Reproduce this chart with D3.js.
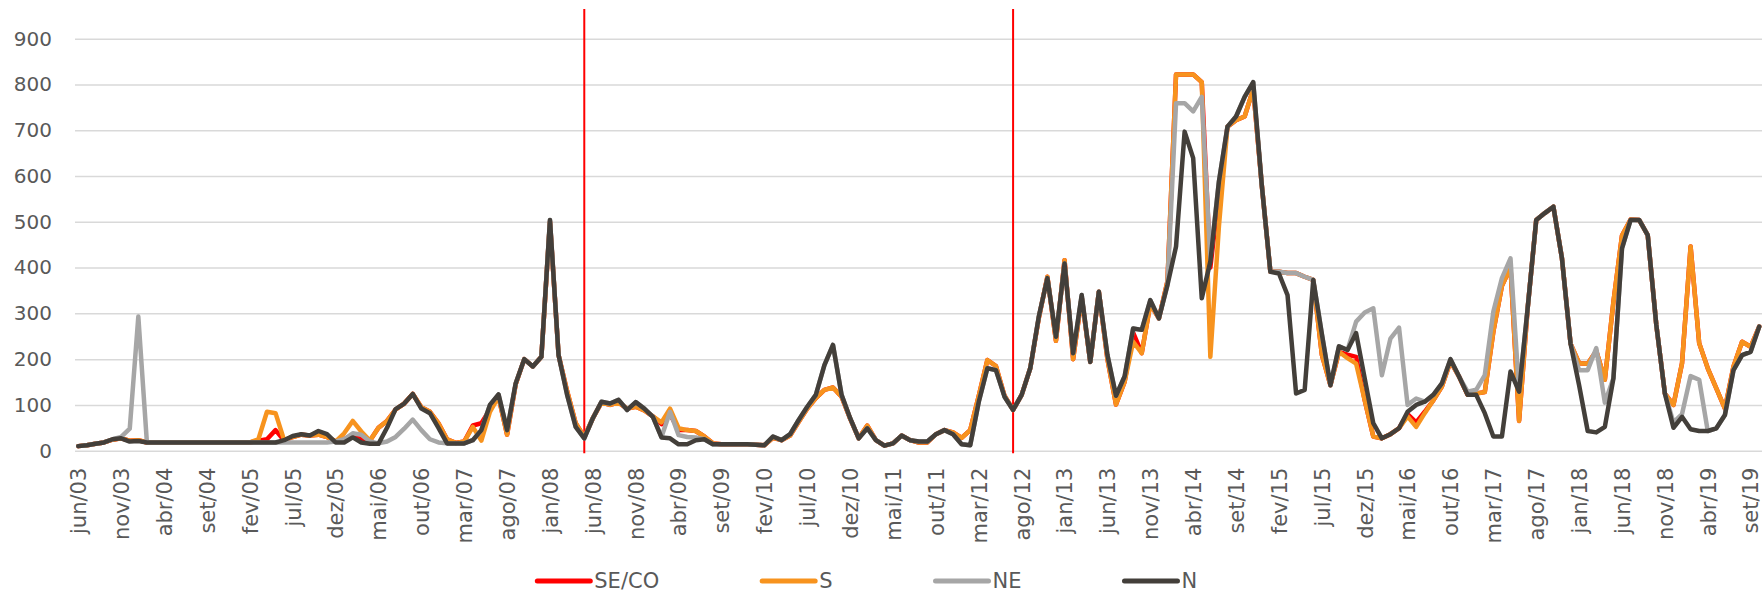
<!DOCTYPE html>
<html>
<head>
<meta charset="utf-8">
<script src="https://cdn.jsdelivr.net/npm/d3@7"></script>
<style>
  html, body { margin: 0; padding: 0; background: #fff; }
  svg { display: block; }
  text { font-family: "DejaVu Sans", Verdana, sans-serif; fill: #595959; }
</style>
</head>
<body>
<svg id="chart"></svg>
<script>
// month names used for the category axis
const monthNames = ['jan', 'fev', 'mar', 'abr', 'mai', 'jun', 'jul', 'ago', 'set', 'out', 'nov', 'dez'];

// categories: jun/03 .. out/19
const months = [];
for (let y = 2003; y <= 2019; y++) {
    for (let m = 0; m < 12; m++) {
        if (y === 2003 && m < 5) continue;
        if (y === 2019 && m > 9) continue;
        months.push(monthNames[m] + '/' + String(y).slice(2));
    }
}

// every 5th month gets a label
const tickLabels = months.filter((d, i) => i % 5 === 0);

const yTicks = [0, 100, 200, 300, 400, 500, 600, 700, 800, 900];

// vertical markers
const markers = ['mai/08', 'jul/12'];

const seriesNames = ['SE/CO', 'S', 'NE', 'N'];
const seriesColors = ['#ff0000', '#f7931e', '#a6a6a6', '#433f3a'];

const seco = [
    10, 12, 15, 18, 24, 27, 22, 23, 18, 18, 18, 18, 18, 18, 18, 18, 18, 18,
    18, 18, 18, 22, 25, 45, 22, 30, 35, 33, 35, 30, 20, 25, 35, 25, 22, 50, 65, 90, 103, 124, 95, 85, 60,
    25, 17, 20, 55, 60, 90, 118, 35, 145, 200, 184, 205, 500, 209, 130, 60, 30, 71, 105, 100, 105, 92, 96, 88, 75,
    58, 80, 45, 45, 43, 31, 16, 14, 14, 14, 14, 13, 12, 28, 23, 33, 63, 92, 115, 133, 138, 118, 70, 27, 55,
    23, 11, 16, 33, 23, 18, 18, 36, 45, 40, 28, 45, 120, 198, 185, 120, 89, 122, 180, 290, 380, 240, 416, 200, 335,
    194, 347, 200, 101, 150, 258, 213, 320, 289, 370, 822, 822, 822, 805, 400, 560, 708, 722, 730, 790, 580, 391, 391, 388, 388,
    380, 373, 210, 143, 216, 210, 205, 110, 31, 27, 36, 49, 80, 62, 85, 110, 140, 195, 162, 122, 125, 128, 260, 360, 400,
    65, 311, 504, 519, 533, 420, 234, 191, 190, 218, 155, 325, 470, 505, 504, 471, 275, 125, 100, 191, 446, 235, 180, 136, 92, 184, 238, 227, 271
];

const s = [
    10, 12, 15, 18, 24, 27, 22, 23, 18, 18, 18, 18, 18, 18, 18, 18, 18, 18,
    18, 18, 18, 25, 85, 82, 23, 30, 35, 33, 35, 30, 20, 38, 65, 42, 22, 50, 65, 90, 103, 124, 95, 85, 60,
    25, 17, 20, 52, 22, 85, 118, 35, 145, 200, 184, 205, 500, 209, 130, 60, 30, 71, 105, 100, 105, 92, 96, 88, 75,
    62, 92, 49, 45, 43, 31, 16, 14, 14, 14, 14, 13, 12, 28, 23, 33, 63, 92, 115, 133, 138, 118, 70, 27, 55,
    23, 11, 16, 33, 23, 18, 18, 36, 45, 40, 28, 45, 120, 198, 185, 120, 89, 122, 180, 290, 380, 240, 416, 200, 335,
    194, 347, 200, 101, 150, 238, 213, 320, 289, 370, 822, 822, 822, 805, 205, 490, 708, 722, 730, 790, 580, 391, 391, 388, 388,
    380, 373, 210, 143, 216, 202, 190, 110, 31, 27, 36, 49, 75, 52, 82, 110, 140, 195, 162, 122, 125, 128, 260, 360, 400,
    65, 311, 504, 519, 533, 420, 234, 191, 190, 218, 155, 325, 470, 505, 504, 471, 275, 125, 100, 191, 446, 235, 180, 136, 92, 184, 238, 227, 271
];

const ne = [
    10, 12, 15, 18, 25, 30, 48, 293, 18, 18, 18, 18, 18, 18, 18, 18, 18, 18,
    18, 18, 18, 18, 18, 18, 18, 18, 18, 18, 18, 18, 20, 25, 38, 35, 20, 16, 20, 30, 48, 68, 45, 25, 18,
    16, 16, 16, 23, 45, 100, 123, 45, 147, 200, 184, 205, 504, 209, 122, 52, 27, 71, 107, 103, 111, 89, 106, 92, 74,
    30, 85, 34, 30, 29, 25, 14, 14, 14, 14, 14, 13, 12, 31, 23, 36, 67, 96, 122, 187, 231, 122, 71, 27, 49,
    23, 11, 16, 33, 23, 20, 20, 36, 45, 36, 14, 12, 107, 180, 176, 118, 89, 122, 180, 293, 377, 249, 409, 213, 340,
    194, 347, 209, 120, 162, 267, 264, 329, 289, 362, 759, 759, 741, 773, 420, 588, 708, 730, 773, 805, 580, 391, 391, 388, 388,
    380, 373, 255, 143, 228, 220, 282, 302, 311, 165, 245, 269, 100, 114, 107, 122, 147, 200, 162, 129, 133, 165, 304, 377, 420,
    129, 311, 504, 519, 533, 420, 234, 176, 176, 224, 105, 158, 442, 504, 504, 471, 275, 125, 62, 80, 163, 155, 43, 49, 78, 176, 209, 216, 271
];

const n = [
    10, 12, 15, 18, 25, 27, 20, 21, 18, 18, 18, 18, 18, 18, 18, 18, 18, 18,
    18, 18, 18, 18, 18, 18, 23, 32, 36, 33, 43, 36, 18, 18, 29, 18, 15, 15, 50, 91, 103, 124, 92, 82, 50,
    16, 16, 16, 23, 45, 100, 123, 45, 147, 200, 184, 205, 504, 209, 122, 52, 27, 71, 107, 103, 111, 89, 106, 92, 74,
    29, 27, 14, 14, 23, 25, 14, 14, 14, 14, 14, 13, 12, 31, 23, 36, 67, 96, 122, 187, 231, 122, 71, 27, 49,
    23, 11, 16, 33, 23, 20, 20, 36, 45, 36, 14, 12, 107, 180, 176, 118, 89, 122, 180, 293, 377, 249, 409, 213, 340,
    194, 347, 209, 120, 162, 267, 264, 329, 289, 362, 446, 697, 639, 333, 413, 588, 708, 730, 773, 805, 580, 391, 387, 340, 125,
    133, 373, 255, 143, 228, 220, 257, 158, 60, 27, 36, 49, 85, 100, 107, 122, 147, 200, 162, 122, 122, 82, 31, 31, 173,
    129, 311, 504, 519, 533, 420, 234, 143, 43, 40, 52, 158, 442, 504, 504, 471, 275, 125, 50, 74, 47, 43, 43, 49, 78, 176, 209, 216, 271
];

const seriesValues = [seco, s, ne, n];

const width = 1764, height = 593;
const plotLeft = 74, plotRight = 1763.5;
const plotTop = 38.7, plotBottom = 450.7;

const svg = d3.select('#chart')
    .attr('width', width)
    .attr('height', height);

const x = d3.scalePoint().domain(months).range([plotLeft, plotRight]).padding(0.5);
const y = d3.scaleLinear().domain([0, 900]).range([plotBottom, plotTop]);

// y axis with gridlines
const yAxis = svg.append('g')
    .attr('transform', `translate(${plotLeft + 1},0)`)
    .call(d3.axisLeft(y).tickValues(yTicks).tickSize(-(1762 - plotLeft - 1)).tickPadding(23));
yAxis.select('.domain').remove();
yAxis.selectAll('.tick line').attr('stroke', '#d9d9d9').attr('stroke-width', 1.5);
yAxis.selectAll('.tick text')
    .style('font-size', '20px')
    .attr('fill', '#595959');

// x axis labels (rotated)
const xAxis = svg.append('g')
    .attr('transform', `translate(0,${plotBottom})`)
    .call(d3.axisBottom(x).tickValues(tickLabels).tickSize(0));
xAxis.select('.domain').remove();
xAxis.selectAll('.tick text')
    .style('font-size', '21px')
    .attr('fill', '#595959')
    .attr('text-anchor', 'end')
    .attr('transform', 'translate(0,17) rotate(-90)')
    .attr('x', 0)
    .attr('y', 0)
    .attr('dy', '0.35em');

// vertical marker lines
svg.append('g')
    .selectAll('line')
    .data(markers)
    .join('line')
    .attr('x1', d => x(d))
    .attr('x2', d => x(d))
    .attr('y1', 9)
    .attr('y2', plotBottom + 2.5)
    .attr('stroke', '#ff0000')
    .attr('stroke-width', 2);

// series lines
const line = d3.line()
    .x((d, i) => x(months[i]))
    .y(d => y(d));

svg.append('g')
    .selectAll('path')
    .data(seriesValues)
    .join('path')
    .attr('d', d => line(d))
    .attr('fill', 'none')
    .attr('stroke', (d, i) => seriesColors[i])
    .attr('stroke-width', 4.5)
    .attr('stroke-linejoin', 'round')
    .attr('stroke-linecap', 'round');

// legend, centred under the plot
const legendY = 581;
const lineLen = 53, gap = 4, pad = 103;
const legend = svg.append('g');
const items = legend.selectAll('g')
    .data(seriesNames)
    .join('g');
items.append('line')
    .attr('x1', 0).attr('x2', lineLen)
    .attr('y1', 0).attr('y2', 0)
    .attr('stroke', (d, i) => seriesColors[i])
    .attr('stroke-width', 5)
    .attr('stroke-linecap', 'round');
items.append('text')
    .attr('x', lineLen + gap)
    .attr('y', 0)
    .attr('dy', '0.35em')
    .style('font-size', '21px')
    .attr('fill', '#595959')
    .text(d => d);

const widths = [];
items.each(function() {
    widths.push(lineLen + gap + d3.select(this).select('text').node().getComputedTextLength() + pad);
});
const total = d3.sum(widths);
let cx = (plotLeft + plotRight) / 2 - total / 2;
items.attr('transform', (d, i) => {
    const t = `translate(${cx},${legendY})`;
    cx += widths[i];
    return t;
});
</script>
</body>
</html>
